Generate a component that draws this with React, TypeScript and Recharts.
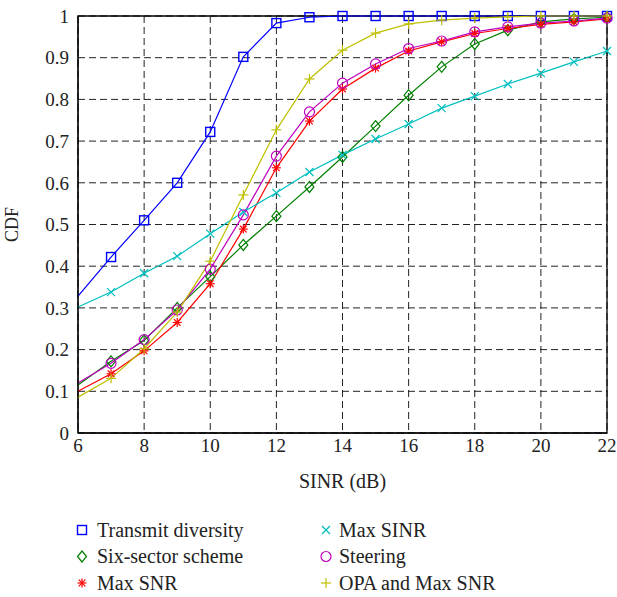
import React from "react";
import { LineChart, Line, XAxis, YAxis, CartesianGrid, ReferenceArea } from "recharts";

const snr = [6, 7, 8, 9, 10, 11, 12, 13, 14, 15, 16, 17, 18, 19, 20, 21, 22];
const transmitDiversity = [0.328, 0.422, 0.51, 0.6, 0.722, 0.902, 0.983, 0.997, 1, 1, 1, 1, 1, 1, 1, 1, 1];
const sixSector = [0.115, 0.172, 0.222, 0.3, 0.375, 0.451, 0.52, 0.59, 0.662, 0.736, 0.81, 0.878, 0.933, 0.966, 0.986, 0.993, 0.997];
const maxSnr = [0.1, 0.142, 0.197, 0.265, 0.358, 0.489, 0.636, 0.748, 0.825, 0.875, 0.916, 0.938, 0.958, 0.97, 0.98, 0.986, 0.993];
const maxSinr = [0.302, 0.338, 0.383, 0.424, 0.478, 0.53, 0.576, 0.626, 0.667, 0.705, 0.741, 0.779, 0.808, 0.837, 0.863, 0.89, 0.916];
const steering = [0.12, 0.167, 0.224, 0.295, 0.393, 0.523, 0.664, 0.77, 0.839, 0.885, 0.922, 0.94, 0.962, 0.974, 0.983, 0.988, 0.995];
const opaMaxSnr = [0.086, 0.131, 0.202, 0.29, 0.412, 0.571, 0.727, 0.849, 0.918, 0.959, 0.981, 0.99, 0.995, 0.998, 1, 1, 1];

const xTicks = [6, 8, 10, 12, 14, 16, 18, 20, 22];
const yTicks = [0, 0.1, 0.2, 0.3, 0.4, 0.5, 0.6, 0.7, 0.8, 0.9, 1];

type Shape = "square" | "diamond" | "star" | "x" | "circle" | "plus";

const series: { key: string; name: string; color: string; shape: Shape; values: number[] }[] = [
  { key: "td", name: "Transmit diversity", color: "#0000ff", shape: "square", values: transmitDiversity },
  { key: "ss", name: "Six-sector scheme", color: "#008000", shape: "diamond", values: sixSector },
  { key: "msnr", name: "Max SNR", color: "#ff0000", shape: "star", values: maxSnr },
  { key: "msinr", name: "Max SINR", color: "#00bfbf", shape: "x", values: maxSinr },
  { key: "st", name: "Steering", color: "#bf00bf", shape: "circle", values: steering },
  { key: "opa", name: "OPA and Max SNR", color: "#bfbf00", shape: "plus", values: opaMaxSnr },
];

const data = snr.map((x, i) => {
  const row: Record<string, number> = { x };
  series.forEach((s) => {
    row[s.key] = s.values[i];
  });
  return row;
});

function Marker({ shape, cx, cy, color }: { shape: Shape; cx: number; cy: number; color: string }) {
  const sw = 1.2;
  switch (shape) {
    case "square":
      return <rect x={cx - 4.5} y={cy - 4.5} width={9} height={9} fill="none" stroke={color} strokeWidth={1.4} />;
    case "diamond":
      return (
        <polygon
          points={`${cx},${cy - 5.5} ${cx + 4.5},${cy} ${cx},${cy + 5.5} ${cx - 4.5},${cy}`}
          fill="none"
          stroke={color}
          strokeWidth={sw}
        />
      );
    case "circle":
      return <circle cx={cx} cy={cy} r={5} fill="none" stroke={color} strokeWidth={sw} />;
    case "x":
      return (
        <g stroke={color} strokeWidth={sw}>
          <line x1={cx - 4} y1={cy - 4} x2={cx + 4} y2={cy + 4} />
          <line x1={cx - 4} y1={cy + 4} x2={cx + 4} y2={cy - 4} />
        </g>
      );
    case "plus":
      return (
        <g stroke={color} strokeWidth={sw}>
          <line x1={cx - 5} y1={cy} x2={cx + 5} y2={cy} />
          <line x1={cx} y1={cy - 5} x2={cx} y2={cy + 5} />
        </g>
      );
    case "star":
      return (
        <g stroke={color} strokeWidth={sw}>
          <line x1={cx - 4.5} y1={cy} x2={cx + 4.5} y2={cy} />
          <line x1={cx} y1={cy - 4.5} x2={cx} y2={cy + 4.5} />
          <line x1={cx - 3.3} y1={cy - 3.3} x2={cx + 3.3} y2={cy + 3.3} />
          <line x1={cx - 3.3} y1={cy + 3.3} x2={cx + 3.3} y2={cy - 3.3} />
        </g>
      );
  }
  return null;
}

const makeDot = (shape: Shape, color: string) => (props: any) => {
  const { cx, cy, index } = props;
  if (index === 0 || cx == null || cy == null) return <g key={`d-${index}`} />;
  return (
    <g key={`d-${index}`}>
      <Marker shape={shape} cx={cx} cy={cy} color={color} />
    </g>
  );
};

const FONT = "'Liberation Serif', 'DejaVu Serif', serif";
const blank = () => "";

export default function App() {
  return (
    <div style={{ position: "absolute", left: 0, top: 0, width: 617, height: 597, background: "#fff", fontFamily: FONT }}>
      <LineChart width={617} height={597} data={data} margin={{ top: 16, right: 10, bottom: 104, left: 0 }}>
        <CartesianGrid stroke="#222" strokeDasharray="7 4" strokeWidth={1} />
        <XAxis
          dataKey="x"
          type="number"
          domain={[6, 22]}
          ticks={xTicks}
          tickLine={false}
          tickSize={0}
          tickMargin={6}
          axisLine={{ stroke: "#000" }}
          height={60}
          tick={{ fill: "#222", fontSize: 19, fontFamily: FONT }}
          label={{ value: "SINR (dB)", position: "insideBottom", offset: 5, fill: "#222", fontSize: 20, fontFamily: FONT }}
        />
        <XAxis
          xAxisId="top"
          orientation="top"
          type="number"
          domain={[6, 22]}
          ticks={xTicks}
          height={0}
          mirror
          tickSize={5}
          tickFormatter={blank}
          axisLine={false}
          tickLine={{ stroke: "#000" }}
        />
        <YAxis
          type="number"
          domain={[0, 1]}
          ticks={yTicks}
          tickLine={false}
          tickSize={0}
          tickMargin={9}
          width={78}
          axisLine={{ stroke: "#000" }}
          tick={{ fill: "#222", fontSize: 19, fontFamily: FONT }}
          label={{ value: "CDF", angle: -90, position: "insideLeft", offset: 12, fill: "#222", fontSize: 18, fontFamily: FONT, style: { textAnchor: "middle" } }}
        />
        <YAxis
          yAxisId="right"
          orientation="right"
          type="number"
          domain={[0, 1]}
          ticks={yTicks}
          width={0}
          mirror
          tickSize={5}
          tickFormatter={blank}
          axisLine={false}
          tickLine={{ stroke: "#000" }}
        />
        <ReferenceArea x1={6} x2={22} y1={0} y2={1} fill="none" stroke="#000" strokeWidth={1.3} ifOverflow="visible" />
        {series.map((s) => (
          <Line
            key={s.key}
            dataKey={s.key}
            name={s.name}
            type="linear"
            stroke={s.color}
            strokeWidth={1.2}
            dot={makeDot(s.shape, s.color)}
            activeDot={false}
            isAnimationActive={false}
          />
        ))}
      </LineChart>
      <svg width={617} height={100} style={{ position: "absolute", left: 0, top: 497 }}>
        {series.map((s, i) => {
          const col = Math.floor(i / 3);
          const row = i % 3;
          const mx = col === 0 ? 82 : 326;
          const tx = col === 0 ? 97 : 339;
          const my = 33 + row * 26.5;
          return (
            <g key={s.key}>
              <Marker shape={s.shape} cx={mx} cy={my} color={s.color} />
              <text x={tx} y={my + 6.5} fontSize={20} fontFamily={FONT} fill="#222">
                {s.name}
              </text>
            </g>
          );
        })}
      </svg>
    </div>
  );
}
